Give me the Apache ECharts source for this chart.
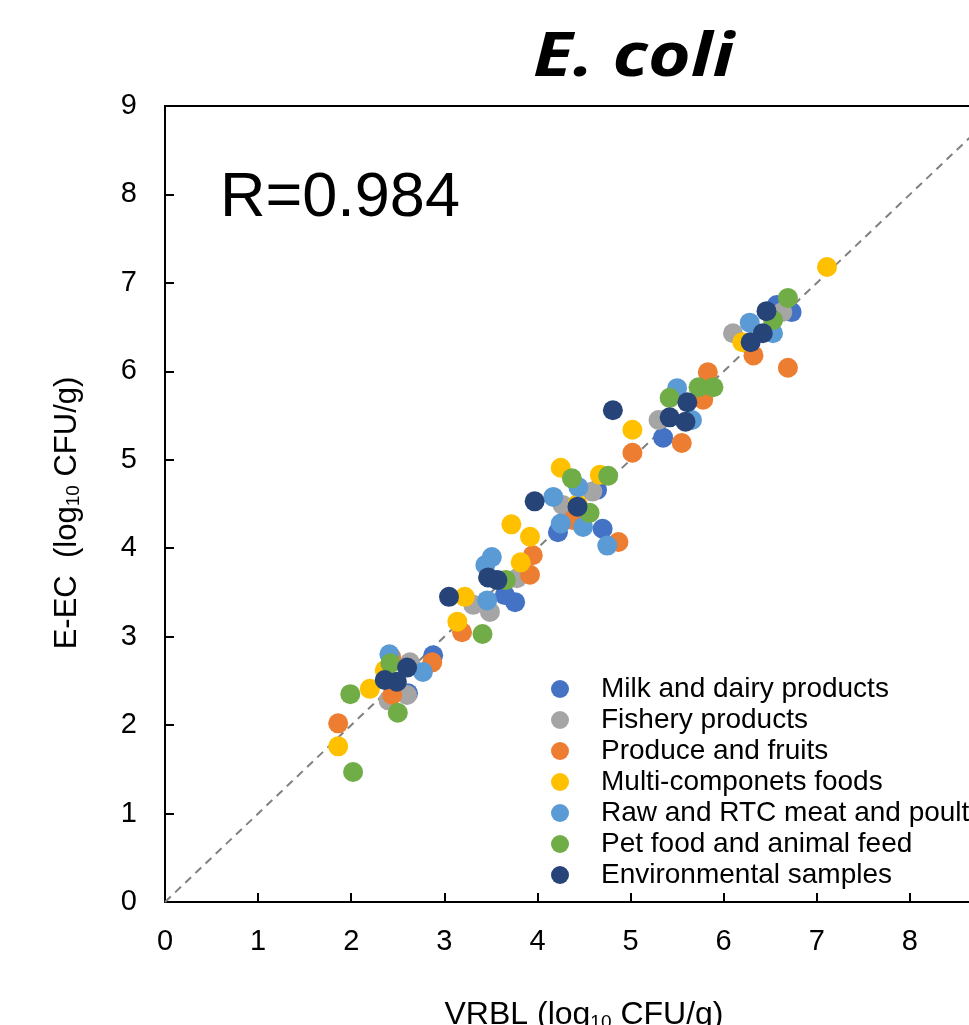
<!DOCTYPE html>
<html>
<head>
<meta charset="utf-8">
<script src="https://cdn.jsdelivr.net/npm/echarts@6/dist/echarts.min.js"></script>
<style>
html,body{margin:0;padding:0;background:#fff;}
#chart{width:969px;height:1025px;}
</style>
</head>
<body>
<div id="chart"></div>
<script>
var seriesNames = ['Milk and dairy products','Fishery products','Produce and fruits','Multi-componets foods','Raw and RTC meat and poultry','Pet food and animal feed','Environmental samples'];
var seriesColors = ['#4472C4','#A5A5A5','#ED7D31','#FFC000','#5B9BD5','#70AD47','#264478'];

var milk = [[2.88,2.79],[2.61,2.36],[3.65,3.47],[3.76,3.39],[4.22,4.18],[4.70,4.22],[4.64,4.66],[5.35,5.25],[6.73,6.67],[6.57,6.75]];
var fishery = [[2.40,2.28],[2.60,2.34],[2.63,2.71],[3.31,3.36],[3.49,3.28],[3.78,3.66],[4.27,4.49],[4.59,4.64],[5.30,5.45],[6.10,6.43],[6.63,6.67]];
var produce = [[1.86,2.02],[2.44,2.34],[2.43,2.77],[2.87,2.71],[3.19,3.05],[3.92,3.70],[3.95,3.92],[4.38,4.32],[4.87,4.07],[5.02,5.08],[5.55,5.19],[5.78,5.68],[5.83,5.99],[6.32,6.18],[6.69,6.04]];
var multi = [[1.86,1.76],[2.20,2.41],[2.36,2.62],[3.22,3.45],[3.14,3.17],[3.82,3.84],[3.92,4.13],[3.72,4.27],[4.43,4.50],[4.25,4.91],[4.67,4.83],[5.02,5.34],[6.20,6.33],[7.11,7.18]];
var rawMeat = [[2.41,2.80],[2.77,2.60],[3.46,3.41],[3.51,3.90],[3.44,3.81],[4.25,4.28],[4.49,4.24],[4.75,4.03],[4.17,4.58],[4.44,4.69],[5.66,5.45],[5.50,5.81],[6.53,6.43],[6.28,6.55]];
var petFood = [[1.99,2.35],[2.02,1.47],[2.50,2.14],[2.42,2.70],[3.41,3.03],[3.66,3.64],[4.56,4.40],[4.37,4.79],[4.76,4.82],[5.42,5.70],[5.73,5.82],[5.89,5.82],[6.53,6.58],[6.69,6.83]];
var environmental = [[2.36,2.51],[2.49,2.49],[2.60,2.65],[3.05,3.45],[3.47,3.67],[3.57,3.64],[3.97,4.53],[4.43,4.47],[4.81,5.56],[5.42,5.48],[5.59,5.43],[5.61,5.65],[6.46,6.68],[6.42,6.43],[6.29,6.33]];
var identityLine = [[0,0],[9,9]];

var allData = [milk, fishery, produce, multi, rawMeat, petFood, environmental];
var FONT = '"Liberation Sans", Arial, sans-serif';

var chart = echarts.init(document.getElementById('chart'), null, {renderer:'canvas'});
var series = [{
  type:'line', data: identityLine, symbol:'none', silent:true, z:1,
  lineStyle:{color:'#808080', width:2, type:[8,6]}, clip:true
}];
allData.forEach(function(d,i){
  series.push({
    name: seriesNames[i], type:'scatter', data:d, symbolSize:20, z:2+i,
    itemStyle:{color:seriesColors[i], opacity:1}
  });
});

chart.setOption({
  animation:false,
  backgroundColor:'#fff',
  title:[{
    text:'R=0.984', left:215, top:162,
    textStyle:{fontFamily:FONT, fontWeight:'normal', fontSize:63, color:'#000'}
  }],
  graphic:[{
    type:'text', x:533, y:28, scaleX:1.2, scaleY:1, originX:0, originY:0,
    style:{text:'E. coli', fill:'#000', font:'italic bold 61px "Open Sans", sans-serif', verticalAlign:'top', align:'left'}
  }],
  grid:{left:165, top:106, right:-34, bottom:123, show:true, borderColor:'#000', borderWidth:2, outerBoundsMode:'none', containLabel:false},
  legend:{
    data: seriesNames, left:546, top:670, orient:'vertical', icon:'circle',
    itemWidth:18, itemHeight:18, itemGap:3,
    textStyle:{fontFamily:FONT, fontSize:28, color:'#000', padding:[0,0,0,27]}
  },
  xAxis:{
    type:'value', min:0, max:9, interval:1,
    name:'{a|VRBL (log}{s|10}{a| CFU/g)}', nameLocation:'middle', nameGap:97,
    nameTextStyle:{rich:{a:{fontFamily:FONT, fontSize:32, color:'#000'}, s:{fontFamily:FONT, fontSize:19, color:'#000', padding:[14,0,0,0]}}},
    axisLine:{show:true, lineStyle:{color:'#000', width:2}},
    axisTick:{show:true, inside:true, length:9, lineStyle:{color:'#000', width:2}},
    axisLabel:{fontFamily:FONT, fontSize:29, color:'#000', margin:25},
    splitLine:{show:false}
  },
  yAxis:{
    type:'value', min:0, max:9, interval:1,
    name:'{a|E-EC  (log}{s|10}{a| CFU/g)}', nameLocation:'middle', nameGap:82, nameRotate:90,
    nameTextStyle:{padding:[0,18,0,0], rich:{a:{fontFamily:FONT, fontSize:31, color:'#000'}, s:{fontFamily:FONT, fontSize:19, color:'#000', padding:[13,0,0,0]}}},
    axisLine:{show:true, lineStyle:{color:'#000', width:2}},
    axisTick:{show:true, inside:true, length:9, lineStyle:{color:'#000', width:2}},
    axisLabel:{fontFamily:FONT, fontSize:29, color:'#000', margin:28},
    splitLine:{show:false}
  },
  series: series
});
</script>
</body>
</html>
